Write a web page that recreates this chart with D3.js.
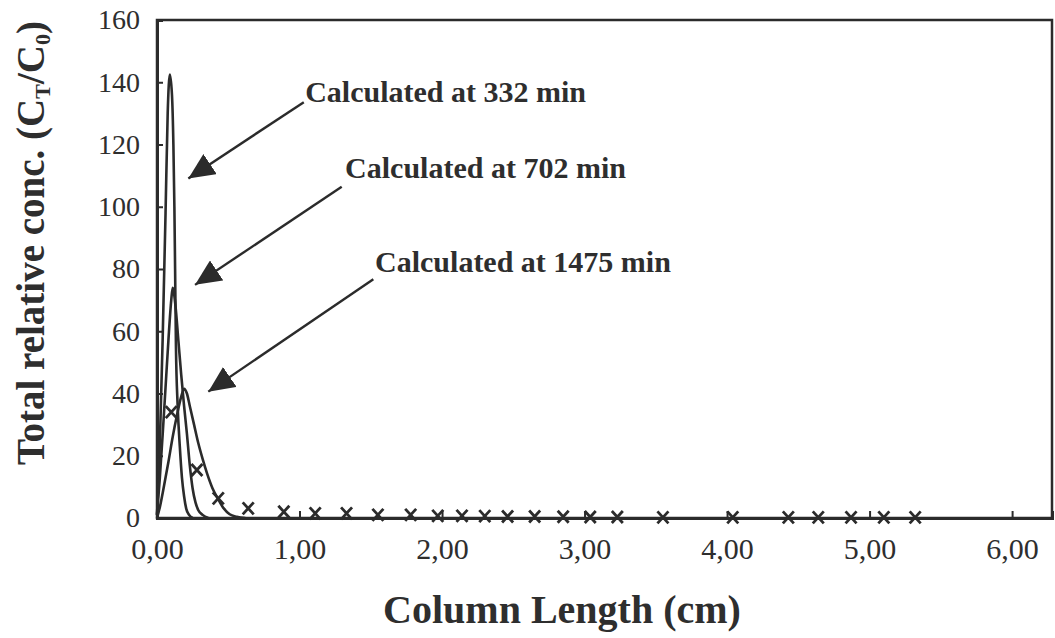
<!DOCTYPE html>
<html>
<head>
<meta charset="utf-8">
<script src="https://cdn.jsdelivr.net/npm/d3@7"></script>
<style>
  html, body { margin: 0; padding: 0; background: #fff; }
  svg { display: block; }
  text { font-family: "Liberation Serif", "Times New Roman", serif; fill: #2e2e2e; }
</style>
</head>
<body>
<div id="chart"></div>
<script>
// model curves: [column length (cm), CT/C0]
var curve332 = [[0, 1], [0.02, 24], [0.04, 58], [0.06, 98], [0.075, 130], [0.09, 142.5], [0.105, 136],
  [0.115, 120], [0.122, 100], [0.127, 80], [0.133, 55], [0.145, 36], [0.16, 23], [0.175, 13],
  [0.19, 7], [0.205, 3], [0.225, 1], [0.25, 0]];
var curve702 = [[0, 1], [0.02, 13], [0.04, 27], [0.06, 42], [0.08, 57], [0.1, 70], [0.11, 74],
  [0.13, 68], [0.15, 57], [0.17, 46], [0.19, 36], [0.21, 27], [0.23, 17], [0.25, 9.5],
  [0.27, 5], [0.29, 2.5], [0.32, 1], [0.36, 0]];
var curve1475 = [[0, 0], [0.02, 3.5], [0.05, 10.5], [0.08, 18], [0.11, 26], [0.14, 33], [0.17, 39],
  [0.19, 41.5], [0.21, 40], [0.23, 36], [0.26, 30], [0.29, 24], [0.32, 19], [0.35, 14.5],
  [0.39, 9.5], [0.43, 6], [0.47, 3], [0.51, 1.2], [0.56, 0.4], [0.62, 0]];

// measured points (x markers)
var measX = [0.10, 0.28, 0.43, 0.64, 0.89, 1.11, 1.33, 1.55, 1.78, 1.97, 2.14, 2.30, 2.46, 2.65,
  2.85, 3.04, 3.23, 3.55, 4.04, 4.43, 4.64, 4.87, 5.10, 5.32];
var measY = [34, 15.4, 6.3, 3.1, 2.0, 1.5, 1.5, 1.0, 1.0, 0.7, 0.7, 0.6, 0.5, 0.5, 0.4, 0.3, 0.3,
  0.2, 0.2, 0.2, 0.2, 0.2, 0.2, 0.2];

var xTicks = [0, 1, 2, 3, 4, 5, 6];
var yTicks = [0, 20, 40, 60, 80, 100, 120, 140, 160];

var annLabels = ["Calculated at 332 min", "Calculated at 702 min", "Calculated at 1475 min"];
var annText = [[1.04, 133.8], [1.32, 109.2], [1.53, 79.1]];
var annTail = [[1.03, 133.6], [1.296, 106.4], [1.518, 76.7]];
var annTip = [[0.22, 109.1], [0.267, 74.9], [0.36, 40.6]];

var width = 1055, height = 638,
    margin = { top: 20, right: 3, bottom: 120, left: 157 },
    ink = "#2b2b2b";

var x = d3.scaleLinear().domain([0, 6.28]).range([margin.left, width - margin.right]);
var y = d3.scaleLinear().domain([0, 160]).range([height - margin.bottom, margin.top]);

var svg = d3.select("#chart").append("svg")
    .attr("width", width)
    .attr("height", height);

// frame
svg.append("rect")
    .attr("x", x(0)).attr("y", y(160))
    .attr("width", x(6.28) - x(0)).attr("height", y(0) - y(160))
    .attr("fill", "none").attr("stroke", ink).attr("stroke-width", 2.5);

// axes, ticks pointing inside
var xAxis = d3.axisBottom(x).tickValues(xTicks).tickSize(-7).tickPadding(20)
    .tickFormat(function (d) { return d3.format(".2f")(d).replace(".", ","); });
var yAxis = d3.axisLeft(y).tickValues(yTicks).tickSize(-6).tickPadding(17);

function styleAxis(g, size) {
  g.select(".domain").attr("stroke", ink).attr("stroke-width", 3);
  g.selectAll(".tick line").attr("stroke", ink).attr("stroke-width", 2);
  g.selectAll(".tick text").attr("font-size", size).attr("fill", ink)
    .style("font-family", "Liberation Serif, serif");
}

svg.append("g").attr("transform", "translate(0," + y(0) + ")").call(xAxis)
    .call(styleAxis, 30);
svg.append("g").attr("transform", "translate(" + x(0) + ",0)").call(yAxis)
    .call(styleAxis, 28);

// model curves
var line = d3.line()
    .x(function (d) { return x(d[0]); })
    .y(function (d) { return y(d[1]); })
    .curve(d3.curveMonotoneX);

[curve332, curve702, curve1475].forEach(function (c) {
  svg.append("path").datum(c)
      .attr("d", line)
      .attr("fill", "none")
      .attr("stroke", ink)
      .attr("stroke-width", 2.6)
      .attr("stroke-linejoin", "round");
});

// measured points drawn as x crosses
var meas = measX.map(function (v, i) { return [v, measY[i]]; });
svg.append("g").selectAll("path.cross").data(meas).enter().append("path")
    .attr("class", "cross")
    .attr("transform", function (d) { return "translate(" + x(d[0]) + "," + y(d[1]) + ")"; })
    .attr("d", "M-5.5,-6L5.5,6M-5.5,6L5.5,-6")
    .attr("stroke", ink)
    .attr("stroke-width", 2.8)
    .attr("fill", "none");

// annotations with filled arrowheads
svg.append("defs").append("marker")
    .attr("id", "head")
    .attr("markerUnits", "userSpaceOnUse")
    .attr("viewBox", "0 -12 26 24")
    .attr("refX", 26).attr("refY", 0)
    .attr("markerWidth", 26).attr("markerHeight", 24)
    .attr("orient", "auto")
  .append("path")
    .attr("d", "M0,-12L26,0L0,12Z")
    .attr("fill", ink);

annLabels.forEach(function (label, i) {
  svg.append("line")
      .attr("x1", x(annTail[i][0])).attr("y1", y(annTail[i][1]))
      .attr("x2", x(annTip[i][0])).attr("y2", y(annTip[i][1]))
      .attr("stroke", ink).attr("stroke-width", 2.4)
      .attr("marker-end", "url(#head)");
  svg.append("text")
      .attr("x", x(annText[i][0])).attr("y", y(annText[i][1]))
      .attr("font-size", 30).attr("font-weight", "bold")
      .text(label);
});

// axis titles
svg.append("text")
    .attr("x", 562).attr("y", 623)
    .attr("text-anchor", "middle")
    .attr("font-size", 40).attr("font-weight", "bold")
    .text("Column Length (cm)");

var yt = svg.append("text")
    .attr("transform", "translate(44,243) rotate(-90)")
    .attr("text-anchor", "middle")
    .attr("font-size", 39).attr("font-weight", "bold");
yt.append("tspan").text("Total relative conc. (C");
yt.append("tspan").attr("font-size", 22).attr("dy", 6).text("T");
yt.append("tspan").attr("dy", -6).text("/C");
yt.append("tspan").attr("font-size", 22).attr("dy", 6).text("0");
yt.append("tspan").attr("dy", -6).text(")");
</script>
</body>
</html>
